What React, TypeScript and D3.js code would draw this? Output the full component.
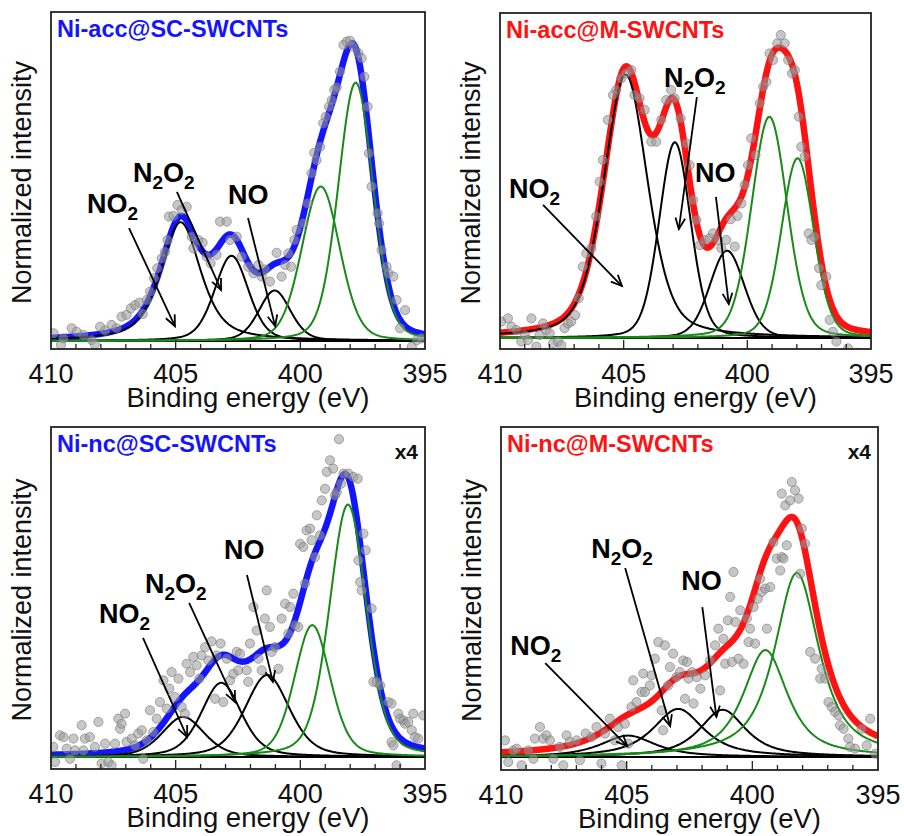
import React, { useEffect, useRef } from 'react';
import * as d3 from 'd3';

// fitted peaks, order: NO2, N2O2, NO, then the two green (substrate) peaks
const accScCenters = [404.8, 402.76, 401.03, 399.18, 397.78];
const accScHeights = [0.4, 0.287, 0.17, 0.52, 0.87];
const accScWidths = [1.9, 1.6, 1.5, 1.8, 1.65];
const accScMix = [0.6, 0.3, 0.3, 0.2, 0.2];

const accMCenters = [404.92, 402.93, 400.82, 399.11, 397.97];
const accMHeights = [0.887, 0.659, 0.294, 0.745, 0.605];
const accMWidths = [2.1, 1.5, 1.65, 1.7, 1.55];
const accMMix = [0.4, 0.2, 0.2, 0.2, 0.2];

const ncScCenters = [404.7, 403.17, 401.33, 399.52, 398.09];
const ncScHeights = [0.135, 0.25, 0.276, 0.444, 0.85];
const ncScWidths = [2.0, 1.9, 2.1, 1.7, 1.75];
const ncScMix = [0.4, 0.4, 0.4, 0.3, 0.3];

const ncMCenters = [404.94, 402.95, 401.18, 399.48, 398.23];
const ncMHeights = [0.072, 0.162, 0.159, 0.36, 0.62];
const ncMWidths = [2.6, 2.4, 2.2, 2.1, 2.1];
const ncMMix = [0.8, 0.8, 0.8, 0.8, 0.8];

// measured points [binding energy, normalized intensity]
const accScPoints = [[409.9,0.026],[409.6,-0.013],[409.5,0.009],[409.17,0.043],[408.97,0.031],[408.7,0.02],[408.37,0.003],[408.24,-0.011],[408.03,0.048],[407.83,0.035],[407.57,0.054],[407.37,0.043],[407.17,0.082],[406.97,0.088],[406.8,0.11],[406.63,0.121],[406.46,0.129],[406.32,0.091],[406.16,0.138],[406.03,0.166],[405.87,0.211],[405.74,0.245],[405.56,0.278],[405.43,0.3],[405.33,0.34],[405.27,0.419],[405.09,0.421],[404.93,0.458],[404.76,0.441],[404.56,0.452],[404.36,0.351],[404.29,0.312],[404.09,0.34],[403.92,0.331],[403.76,0.284],[403.6,0.262],[403.36,0.29],[403.22,0.402],[402.95,0.402],[402.82,0.34],[402.55,0.351],[402.35,0.284],[402.09,0.25],[401.88,0.228],[401.68,0.256],[401.55,0.217],[401.42,0.241],[401.22,0.2],[400.95,0.297],[400.75,0.217],[400.61,0.256],[400.48,0.295],[400.37,0.25],[400.24,0.34],[400.15,0.374],[399.88,0.396],[399.71,0.463],[399.55,0.565],[399.44,0.634],[399.35,0.609],[399.21,0.654],[399.08,0.733],[398.98,0.755],[398.85,0.789],[398.74,0.811],[398.64,0.845],[398.54,0.854],[398.41,0.907],[398.27,0.997],[398.14,1.008],[398.01,1.011],[397.87,0.991],[397.67,0.969],[397.54,0.952],[397.43,0.89],[397.3,0.789],[397.25,0.632],[397.14,0.52],[396.9,0.43],[396.84,0.396],[396.74,0.306],[396.54,0.25],[396.47,0.228],[396.27,0.217],[396.14,0.138],[396.0,0.043],[395.8,0.104],[395.53,-0.019],[395.33,0.003],[395.13,0.009]];

const accMPoints = [[409.95,0.055],[409.68,0.066],[409.54,0.038],[409.34,0.027],[409.14,-0.012],[409.0,0.01],[408.87,-0.007],[408.73,0.066],[408.53,-0.029],[408.4,0.01],[408.26,0.049],[408.13,0.027],[407.99,0.016],[407.86,-0.018],[407.66,-0.012],[407.52,-0.024],[407.39,0.033],[407.25,0.049],[407.12,0.055],[406.96,0.077],[406.82,0.134],[406.65,0.24],[406.51,0.285],[406.31,0.302],[406.11,0.409],[405.97,0.526],[405.84,0.599],[405.64,0.734],[405.43,0.818],[405.3,0.835],[405.1,0.874],[404.9,0.891],[404.69,0.902],[404.56,0.818],[404.36,0.807],[404.15,0.768],[403.88,0.661],[403.68,0.661],[403.48,0.734],[403.28,0.801],[403.08,0.835],[402.94,0.807],[402.7,0.74],[402.46,0.655],[402.33,0.582],[402.19,0.465],[402.06,0.397],[401.92,0.313],[401.72,0.33],[401.52,0.336],[401.39,0.352],[401.18,0.33],[401.05,0.302],[400.85,0.33],[400.67,0.4],[400.51,0.308],[400.4,0.411],[400.24,0.453],[400.11,0.515],[399.97,0.582],[399.84,0.672],[399.67,0.616],[399.5,0.79],[399.36,0.846],[399.23,0.863],[399.1,0.958],[398.96,0.936],[398.79,0.992],[398.65,1.02],[398.49,0.992],[398.35,0.936],[398.19,0.891],[398.08,0.902],[397.92,0.745],[397.82,0.644],[397.68,0.611],[397.52,0.352],[397.41,0.33],[397.28,0.341],[397.1,0.235],[397.01,0.178],[396.81,0.207],[396.67,0.061],[396.54,0.021],[396.4,-0.012],[395.93,-0.035],[395.53,-0.05]];

const ncScPoints = [[409.91,0.034],[409.84,-0.017],[409.64,0.073],[409.5,0.067],[409.37,0.028],[409.24,-0.006],[409.1,0.062],[409.04,0.022],[408.77,0.107],[408.7,0.022],[408.64,0.062],[408.44,0.067],[408.24,0.034],[408.1,0.118],[407.97,-0.022],[407.83,0.045],[407.7,-0.017],[407.57,-0.028],[407.43,0.045],[407.3,0.129],[407.23,0.095],[407.17,0.112],[407.03,0.146],[406.97,0.051],[406.76,0.062],[406.63,0.039],[406.5,0.079],[406.36,0.09],[406.3,-0.006],[406.16,0.056],[406.03,0.157],[405.9,0.084],[405.76,0.129],[405.63,0.185],[405.49,0.258],[405.36,0.163],[405.25,0.23],[405.16,0.286],[405.03,0.202],[404.89,0.264],[404.76,0.168],[404.63,0.146],[404.56,0.314],[404.42,0.286],[404.29,0.337],[404.16,0.309],[404.05,0.264],[403.96,0.342],[403.82,0.37],[403.69,0.325],[403.56,0.389],[403.42,0.196],[403.36,0.342],[403.2,0.382],[403.09,0.185],[402.95,0.331],[402.82,0.258],[402.69,0.28],[402.55,0.354],[402.49,0.292],[402.42,0.348],[402.15,0.292],[402.09,0.253],[402.02,0.382],[401.88,0.505],[401.75,0.426],[401.68,0.331],[401.55,0.292],[401.42,0.466],[401.35,0.561],[401.22,0.438],[401.15,0.354],[401.02,0.37],[400.88,0.297],[400.75,0.466],[400.61,0.516],[400.48,0.415],[400.41,0.505],[400.28,0.55],[400.21,0.443],[400.08,0.438],[400.01,0.718],[399.88,0.707],[399.81,0.584],[399.75,0.763],[399.61,0.769],[399.55,0.73],[399.41,0.673],[399.34,0.814],[399.21,0.746],[399.14,0.864],[399.01,0.903],[398.94,0.96],[398.81,0.999],[398.68,0.971],[398.61,0.881],[398.54,0.892],[398.45,1.07],[398.37,0.92],[398.27,0.954],[398.07,0.954],[397.87,0.943],[397.7,0.937],[397.67,0.662],[397.6,0.589],[397.54,0.561],[397.47,0.752],[397.38,0.696],[397.14,0.5],[397.07,0.253],[396.94,0.253],[396.8,0.241],[396.47,0.185],[396.34,0.18],[396.34,0.05],[396.27,0.039],[396.14,-0.028],[396.07,0.146],[396.0,0.129],[395.87,0.123],[395.8,0.112],[395.67,0.118],[395.53,0.09],[395.47,0.146],[395.4,0.067],[395.27,0.062],[395.07,0.14]];

const ncMPoints = [[409.84,0.056],[409.71,-0.017],[409.51,0.022],[409.38,0.028],[409.18,-0.028],[408.91,0.022],[408.71,-0.006],[408.65,0.062],[408.45,0.101],[408.32,0.062],[408.19,0.073],[408.05,0.056],[407.92,-0.006],[407.66,0.034],[407.52,-0.028],[407.39,0.073],[407.26,0.051],[406.99,0.056],[406.86,-0.011],[406.63,0.079],[406.4,0.067],[406.2,0.101],[406.0,-0.022],[405.86,0.079],[405.67,0.129],[405.47,0.056],[405.34,0.101],[405.2,-0.028],[405.07,0.112],[404.94,0.045],[404.81,0.168],[404.74,0.258],[404.61,0.185],[404.41,0.219],[404.34,0.281],[404.27,0.219],[404.08,0.241],[404.01,0.275],[403.88,0.331],[403.74,0.387],[403.61,0.157],[403.55,0.09],[403.48,0.376],[403.35,0.241],[403.28,0.303],[403.15,0.348],[403.02,0.269],[402.88,0.286],[402.75,0.325],[402.68,0.196],[402.6,0.32],[402.54,0.264],[402.4,0.286],[402.34,0.18],[402.21,0.269],[402.07,0.23],[401.88,0.275],[401.68,0.325],[401.48,0.376],[401.35,0.432],[401.28,0.224],[401.15,0.398],[401.08,0.314],[400.97,0.46],[400.88,0.539],[400.81,0.32],[400.75,0.623],[400.68,0.455],[400.55,0.331],[400.48,0.494],[400.35,0.314],[400.22,0.466],[400.15,0.387],[400.09,0.432],[399.95,0.505],[399.89,0.382],[399.78,0.533],[399.69,0.6],[399.62,0.556],[399.49,0.567],[399.42,0.432],[399.29,0.572],[399.16,0.724],[399.03,0.668],[398.89,0.628],[398.83,0.673],[398.83,0.887],[398.76,0.668],[398.69,0.847],[398.63,0.713],[398.5,0.864],[398.43,0.926],[398.3,0.898],[398.16,0.87],[398.1,0.617],[398.03,0.769],[397.9,0.718],[397.7,0.354],[397.5,0.331],[397.3,0.264],[397.24,0.297],[397.1,0.264],[396.97,0.185],[396.84,0.168],[396.71,0.152],[396.57,0.14],[396.51,0.107],[396.37,0.095],[396.18,0.062],[396.11,0.034],[395.91,0.028],[395.65,0.095],[395.45,0.039],[395.31,0.129],[395.11,0.011]];

const majorTicks = [410, 405, 400, 395];
const minorTicks = d3.range(396, 410, 1);

const BLUE = '#1414ff';
const RED = '#ff1212';
const GREEN = '#178a17';
const FONT = "Arial, 'Liberation Sans', Helvetica, sans-serif";

// label texts, [text, isSubscript]
const labelParts: Record<string, [string, boolean][]> = {
  NO2: [['NO', false], ['2', true]],
  N2O2: [['N', false], ['2', true], ['O', false], ['2', true]],
  NO: [['NO', false]],
};

const panels = [
  {
    title: 'Ni-acc@SC-SWCNTs', color: BLUE, x4: false,
    left: 51, right: 425, top: 12, bottom: 349, base: 341,
    centers: accScCenters, heights: accScHeights, widths: accScWidths, mix: accScMix, points: accScPoints,
    notes: [
      { label: 'NO2', tx: 408.56, ty: 0.431, from: [406.87, 0.38], to: [405.03, 0.05] },
      { label: 'N2O2', tx: 406.71, ty: 0.535, from: [404.95, 0.502], to: [403.18, 0.172] },
      { label: 'NO', tx: 402.9, ty: 0.461, from: [402.1, 0.414], to: [401.01, 0.05] },
    ],
  },
  {
    title: 'Ni-acc@M-SWCNTs', color: RED, x4: false,
    left: 500, right: 871, top: 13, bottom: 349, base: 338,
    centers: accMCenters, heights: accMHeights, widths: accMWidths, mix: accMMix, points: accMPoints,
    notes: [
      { label: 'NO2', tx: 409.64, ty: 0.471, from: [408.26, 0.448], to: [405.07, 0.175] },
      { label: 'N2O2', tx: 403.37, ty: 0.845, from: [402.04, 0.811], to: [402.77, 0.367] },
      { label: 'NO', tx: 402.12, ty: 0.525, from: [401.27, 0.475], to: [400.75, 0.114] },
    ],
  },
  {
    title: 'Ni-nc@SC-SWCNTs', color: BLUE, x4: true,
    left: 51, right: 425, top: 427, bottom: 769, base: 757,
    centers: ncScCenters, heights: ncScHeights, widths: ncScWidths, mix: ncScMix, points: ncScPoints,
    notes: [
      { label: 'NO2', tx: 408.07, ty: 0.451, from: [406.31, 0.401], to: [404.54, 0.067] },
      { label: 'N2O2', tx: 406.23, ty: 0.552, from: [404.46, 0.519], to: [402.62, 0.185] },
      { label: 'NO', tx: 403.06, ty: 0.667, from: [402.14, 0.613], to: [401.1, 0.253] },
    ],
  },
  {
    title: 'Ni-nc@M-SWCNTs', color: RED, x4: true,
    left: 501, right: 878, top: 427, bottom: 770, base: 757,
    centers: ncMCenters, heights: ncMHeights, widths: ncMWidths, mix: ncMMix, points: ncMPoints,
    notes: [
      { label: 'NO2', tx: 409.63, ty: 0.343, from: [408.24, 0.316], to: [404.98, 0.037] },
      { label: 'N2O2', tx: 406.41, ty: 0.67, from: [405.06, 0.636], to: [403.27, 0.104] },
      { label: 'NO', tx: 402.83, ty: 0.562, from: [401.99, 0.505], to: [401.43, 0.135] },
    ],
  },
];

// pseudo-Voigt peak
const peak = (x: number, c: number, h: number, w: number, m: number) => {
  const d = (x - c) / w;
  return h * ((1 - m) * Math.exp(-4 * Math.LN2 * d * d) + m / (1 + 4 * d * d));
};

const energies = d3.range(395, 410.0001, 0.04);

const App = () => {
  const ref = useRef<SVGSVGElement>(null);

  useEffect(() => {
    const svg = d3.select(ref.current);
    svg.selectAll('*').remove();

    panels.forEach((p, pi) => {
      const x = d3.scaleLinear().domain([410, 395]).range([p.left, p.right]);
      const y = d3.scaleLinear().domain([0, 1]).range([p.base, p.base - 297]);
      const g = svg.append('g');

      const clipId = `clip-${pi}`;
      svg.append('clipPath').attr('id', clipId)
        .append('rect')
        .attr('x', p.left).attr('y', p.top)
        .attr('width', p.right - p.left).attr('height', p.bottom - p.top);

      const plot = g.append('g').attr('clip-path', `url(#${clipId})`);
      const line = d3.line<number[]>().x(d => x(d[0])).y(d => y(d[1]));

      // envelope = sum of the peaks
      const envelope = energies.map(e => [e, p.centers.reduce((s, c, i) => s + peak(e, c, p.heights[i], p.widths[i], p.mix[i]), 0)]);
      plot.append('path')
        .datum(envelope)
        .attr('d', line)
        .attr('fill', 'none')
        .attr('stroke', p.color)
        .attr('stroke-width', 6.5)
        .attr('stroke-linejoin', 'round');

      // baseline
      plot.append('line')
        .attr('x1', p.left).attr('x2', p.right)
        .attr('y1', y(0)).attr('y2', y(0))
        .attr('stroke', '#000').attr('stroke-width', 2.2);

      // components
      p.centers.forEach((c, i) => {
        const comp = energies.map(e => [e, peak(e, c, p.heights[i], p.widths[i], p.mix[i])]);
        plot.append('path')
          .datum(comp)
          .attr('d', line)
          .attr('fill', 'none')
          .attr('stroke', i < 3 ? '#000' : GREEN)
          .attr('stroke-width', 2);
      });

      // points
      plot.selectAll('.pt')
        .data(p.points)
        .enter()
        .append('circle')
        .attr('cx', d => x(d[0]))
        .attr('cy', d => y(d[1]))
        .attr('r', 4.6)
        .attr('fill', '#999')
        .attr('fill-opacity', 0.55)
        .attr('stroke', '#707070')
        .attr('stroke-opacity', 0.55)
        .attr('stroke-width', 1);

      // frame
      g.append('rect')
        .attr('x', p.left).attr('y', p.top)
        .attr('width', p.right - p.left).attr('height', p.bottom - p.top)
        .attr('fill', 'none')
        .attr('stroke', '#222')
        .attr('stroke-width', 1.8);

      // ticks
      g.selectAll('.minor')
        .data(minorTicks)
        .enter()
        .append('line')
        .attr('x1', d => x(d)).attr('x2', d => x(d))
        .attr('y1', p.bottom).attr('y2', d => p.bottom - (d % 5 === 0 ? 9 : 5))
        .attr('stroke', '#222').attr('stroke-width', 1.3);

      g.selectAll('.tlabel')
        .data(majorTicks)
        .enter()
        .append('text')
        .attr('x', d => x(d))
        .attr('y', p.bottom + 34)
        .attr('text-anchor', 'middle')
        .style('font-family', FONT)
        .style('font-size', '27px')
        .style('fill', '#111')
        .text(d => d);

      g.append('text')
        .attr('x', (p.left + p.right) / 2 + 10)
        .attr('y', p.bottom + 58)
        .attr('text-anchor', 'middle')
        .style('font-family', FONT)
        .style('font-size', '27.5px')
        .style('fill', '#111')
        .text('Binding energy (eV)');

      g.append('text')
        .attr('transform', `translate(${p.left - 20}, ${(p.top + p.bottom) / 2 + 2}) rotate(-90)`)
        .attr('text-anchor', 'middle')
        .style('font-family', FONT)
        .style('font-size', '27px')
        .style('fill', '#111')
        .text('Normalized intensity');

      // title
      g.append('text')
        .attr('x', p.left + 6)
        .attr('y', p.top + 25)
        .style('font-family', FONT)
        .style('font-size', '23.5px')
        .style('font-weight', 'bold')
        .style('fill', p.color)
        .text(p.title);

      if (p.x4) {
        g.append('text')
          .attr('x', p.right - 7)
          .attr('y', p.top + 32)
          .attr('text-anchor', 'end')
          .style('font-family', FONT)
          .style('font-size', '21px')
          .style('font-weight', 'bold')
          .style('fill', '#111')
          .text('x4');
      }

      // annotations with arrows
      p.notes.forEach(n => {
        const t = g.append('text')
          .attr('x', x(n.tx))
          .attr('y', y(n.ty))
          .style('font-family', FONT)
          .style('font-size', '27px')
          .style('font-weight', 'bold')
          .style('fill', '#000');
        let sub = false;
        labelParts[n.label].forEach(([s, isSub]) => {
          const ts = t.append('tspan').text(s);
          if (isSub && !sub) ts.attr('dy', 7).style('font-size', '19px');
          else if (!isSub && sub) ts.attr('dy', -7);
          else if (isSub) ts.style('font-size', '19px');
          sub = isSub;
        });

        const x1 = x(n.from[0]), y1 = y(n.from[1]);
        const x2 = x(n.to[0]), y2 = y(n.to[1]);
        const ang = Math.atan2(y2 - y1, x2 - x1);
        const len = 12, spread = 0.42;
        g.append('line')
          .attr('x1', x1).attr('y1', y1).attr('x2', x2).attr('y2', y2)
          .attr('stroke', '#000').attr('stroke-width', 1.8);
        g.append('path')
          .attr('d', `M${x2 - len * Math.cos(ang - spread)},${y2 - len * Math.sin(ang - spread)}L${x2},${y2}L${x2 - len * Math.cos(ang + spread)},${y2 - len * Math.sin(ang + spread)}`)
          .attr('fill', 'none')
          .attr('stroke', '#000')
          .attr('stroke-width', 1.8);
      });
    });
  }, []);

  return (
    <div style={{ position: 'absolute', left: 0, top: 0, background: '#fff' }}>
      <svg ref={ref} width={904} height={836} style={{ display: 'block', background: '#fff' }} />
    </div>
  );
};

export default App;
